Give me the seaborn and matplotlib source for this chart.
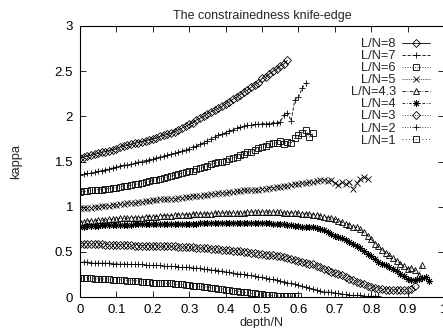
import numpy as np
import pandas as pd
import matplotlib
matplotlib.use("Agg")
import matplotlib.pyplot as plt
import seaborn as sns

# depth/N sampling grid shared by all runs
depth = np.arange(0, 97) / 100.0

labels = ["L/N=8", "L/N=7", "L/N=6", "L/N=5", "L/N=4.3",
          "L/N=4", "L/N=3", "L/N=2", "L/N=1"]

kappa_8 = [1.54, 1.55, 1.56, 1.57, 1.58, 1.59, 1.60, 1.61, 1.62, 1.63,
           1.64, 1.66, 1.67, 1.68, 1.69, 1.70, 1.71, 1.72, 1.73, 1.74,
           1.75, 1.76, 1.78, 1.79, 1.80, 1.81, 1.83, 1.85, 1.87, 1.89,
           1.91, 1.93, 1.96, 1.98, 2.00, 2.03, 2.05, 2.07, 2.09, 2.11,
           2.14, 2.16, 2.19, 2.21, 2.24, 2.27, 2.29, 2.32, 2.35, 2.37,
           2.42, 2.43, 2.47, 2.50, 2.52, 2.56, 2.58, 2.62]

kappa_7 = [1.35, 1.36, 1.37, 1.37, 1.38, 1.39, 1.40, 1.41, 1.42, 1.43,
           1.44, 1.45, 1.46, 1.46, 1.47, 1.48, 1.49, 1.50, 1.51, 1.52,
           1.53, 1.54, 1.55, 1.56, 1.57, 1.58, 1.59, 1.60, 1.62, 1.63,
           1.64, 1.66, 1.67, 1.69, 1.71, 1.73, 1.75, 1.77, 1.79, 1.80,
           1.82, 1.84, 1.85, 1.87, 1.88, 1.89, 1.90, 1.90, 1.91, 1.91,
           1.92, 1.92, 1.92, 1.93, 1.93, 1.94, 2.01, 2.04, 1.95, 2.18,
           2.21, 2.31, 2.37]

kappa_6 = [1.16, 1.17, 1.17, 1.18, 1.18, 1.19, 1.19, 1.20, 1.20, 1.21,
           1.21, 1.22, 1.23, 1.23, 1.24, 1.25, 1.25, 1.26, 1.27, 1.28,
           1.29, 1.30, 1.31, 1.32, 1.33, 1.34, 1.35, 1.36, 1.37, 1.38,
           1.39, 1.40, 1.42, 1.43, 1.44, 1.45, 1.47, 1.48, 1.49, 1.50,
           1.51, 1.53, 1.54, 1.55, 1.57, 1.58, 1.60, 1.61, 1.63, 1.65,
           1.66, 1.67, 1.69, 1.70, 1.71, 1.73, 1.69, 1.72, 1.70, 1.76,
           1.79, 1.82, 1.85, 1.77, 1.81]

kappa_5 = [0.98, 0.98, 0.99, 0.99, 1.00, 1.00, 1.01, 1.01, 1.01, 1.02,
           1.02, 1.03, 1.03, 1.04, 1.04, 1.04, 1.05, 1.05, 1.06, 1.06,
           1.07, 1.07, 1.08, 1.08, 1.08, 1.09, 1.09, 1.10, 1.10, 1.11,
           1.11, 1.12, 1.12, 1.12, 1.13, 1.13, 1.14, 1.14, 1.15, 1.15,
           1.15, 1.16, 1.16, 1.17, 1.17, 1.18, 1.18, 1.18, 1.19, 1.19,
           1.20, 1.20, 1.21, 1.21, 1.22, 1.22, 1.23, 1.23, 1.24, 1.25,
           1.25, 1.26, 1.26, 1.27, 1.27, 1.28, 1.29, 1.30, 1.28, 1.30,
           1.26, 1.24, 1.27, 1.25, 1.27, 1.20, 1.26, 1.31, 1.33, 1.31]

kappa_43 = [0.83, 0.83, 0.84, 0.84, 0.84, 0.85, 0.85, 0.85, 0.86, 0.86,
            0.86, 0.87, 0.87, 0.87, 0.88, 0.88, 0.88, 0.88, 0.89, 0.89,
            0.89, 0.89, 0.90, 0.90, 0.90, 0.90, 0.91, 0.91, 0.91, 0.91,
            0.91, 0.92, 0.92, 0.92, 0.92, 0.92, 0.92, 0.93, 0.93, 0.93,
            0.93, 0.93, 0.93, 0.93, 0.93, 0.93, 0.94, 0.94, 0.94, 0.94,
            0.94, 0.94, 0.94, 0.94, 0.94, 0.94, 0.93, 0.93, 0.93, 0.93,
            0.93, 0.92, 0.92, 0.92, 0.91, 0.91, 0.90, 0.89, 0.88, 0.87,
            0.86, 0.84, 0.83, 0.81, 0.80, 0.78, 0.77, 0.75, 0.72, 0.68,
            0.64, 0.59, 0.56, 0.52, 0.49, 0.46, 0.43, 0.40, 0.37, 0.34,
            0.31, 0.32, 0.30, 0.24, 0.35]

kappa_4 = [0.78, 0.78, 0.79, 0.79, 0.79, 0.79, 0.80, 0.80, 0.80, 0.80,
           0.80, 0.80, 0.80, 0.80, 0.80, 0.81, 0.81, 0.81, 0.81, 0.81,
           0.81, 0.81, 0.81, 0.81, 0.81, 0.81, 0.81, 0.81, 0.81, 0.81,
           0.81, 0.81, 0.81, 0.82, 0.82, 0.82, 0.82, 0.82, 0.82, 0.82,
           0.82, 0.82, 0.82, 0.82, 0.82, 0.82, 0.82, 0.82, 0.82, 0.82,
           0.82, 0.82, 0.82, 0.81, 0.81, 0.81, 0.81, 0.80, 0.80, 0.79,
           0.79, 0.78, 0.78, 0.77, 0.77, 0.76, 0.75, 0.74, 0.72, 0.70,
           0.68, 0.66, 0.65, 0.63, 0.61, 0.59, 0.57, 0.54, 0.51, 0.48,
           0.45, 0.42, 0.39, 0.37, 0.35, 0.33, 0.31, 0.29, 0.26, 0.23,
           0.20, 0.19, 0.19, 0.20, 0.21, 0.22, 0.18]

kappa_3 = [0.59, 0.59, 0.59, 0.59, 0.59, 0.59, 0.59, 0.58, 0.58, 0.58,
           0.58, 0.58, 0.58, 0.58, 0.58, 0.57, 0.57, 0.57, 0.57, 0.57,
           0.57, 0.57, 0.56, 0.56, 0.56, 0.56, 0.56, 0.55, 0.55, 0.55,
           0.55, 0.55, 0.54, 0.54, 0.54, 0.54, 0.53, 0.53, 0.53, 0.52,
           0.52, 0.52, 0.51, 0.51, 0.51, 0.50, 0.50, 0.49, 0.49, 0.48,
           0.48, 0.47, 0.47, 0.46, 0.45, 0.45, 0.44, 0.43, 0.42, 0.41,
           0.40, 0.39, 0.38, 0.37, 0.36, 0.34, 0.33, 0.31, 0.30, 0.28,
           0.27, 0.25, 0.24, 0.22, 0.20, 0.19, 0.17, 0.15, 0.14, 0.12,
           0.11, 0.10, 0.09, 0.09, 0.08, 0.08, 0.08, 0.08, 0.08, 0.08,
           0.08, 0.09, 0.12]

kappa_2 = [0.39, 0.39, 0.39, 0.38, 0.38, 0.38, 0.38, 0.38, 0.38, 0.37,
           0.37, 0.37, 0.37, 0.37, 0.36, 0.36, 0.36, 0.36, 0.35, 0.35,
           0.35, 0.35, 0.35, 0.34, 0.34, 0.34, 0.34, 0.33, 0.33, 0.33,
           0.33, 0.32, 0.32, 0.32, 0.31, 0.31, 0.30, 0.30, 0.29, 0.29,
           0.28, 0.28, 0.27, 0.26, 0.26, 0.25, 0.24, 0.24, 0.23, 0.22,
           0.22, 0.21, 0.20, 0.20, 0.19, 0.18, 0.17, 0.16, 0.15, 0.14,
           0.13, 0.12, 0.11, 0.10, 0.09, 0.08, 0.07, 0.06, 0.06, 0.05,
           0.04, 0.04, 0.03, 0.03, 0.02, 0.02, 0.02, 0.02, 0.01, 0.01,
           0.01, 0.01, 0.01]

kappa_1 = [0.21, 0.21, 0.21, 0.21, 0.20, 0.20, 0.20, 0.20, 0.20, 0.19,
           0.19, 0.19, 0.19, 0.18, 0.18, 0.18, 0.18, 0.17, 0.17, 0.17,
           0.16, 0.16, 0.16, 0.15, 0.15, 0.15, 0.14, 0.14, 0.14, 0.13,
           0.13, 0.12, 0.12, 0.12, 0.11, 0.11, 0.10, 0.10, 0.09, 0.09,
           0.08, 0.08, 0.07, 0.07, 0.06, 0.05, 0.05, 0.04, 0.04, 0.03,
           0.03, 0.02, 0.02, 0.02, 0.01, 0.01, 0.01, 0.01, 0.01, 0.01,
           0.01]

series = [kappa_8, kappa_7, kappa_6, kappa_5, kappa_43,
          kappa_4, kappa_3, kappa_2, kappa_1]

x_ticks = [0, 0.1, 0.2, 0.3, 0.4, 0.5, 0.6, 0.7, 0.8, 0.9, 1.0]
x_tick_labels = ["0", "0.1", "0.2", "0.3", "0.4", "0.5",
                 "0.6", "0.7", "0.8", "0.9", "1"]
y_ticks = [0, 0.5, 1.0, 1.5, 2.0, 2.5, 3.0]
y_tick_labels = ["0", "0.5", "1", "1.5", "2", "2.5", "3"]

# point type and dash pattern for each run
markers = ["D", "+", "s", "x", "^", (8, 2, 0), "D", "+", "s"]
line_styles = ["-", (0, (4, 2)), (0, (1, 2)), (0, (1, 1.5)),
               (0, (4, 2, 1, 2)), (0, (3, 2, 1, 2)), (0, (1, 2)),
               (0, (1, 2)), (0, (1, 3))]
marker_sizes = [3.6, 5, 4, 4.5, 4.2, 5, 3.6, 5, 4]

sns.set_style("ticks")
plt.rcParams["font.family"] = ["Liberation Sans", "DejaVu Sans"]

fig = plt.figure(figsize=(4.43, 3.28), dpi=100)
ax = fig.add_axes([80 / 443, 31 / 328, 364 / 443, 271 / 328])

for lab, vals, mk, ls, ms in zip(labels, series, markers, line_styles, marker_sizes):
    df = pd.DataFrame({"depth/N": depth[:len(vals)], "kappa": vals})
    sns.lineplot(data=df, x="depth/N", y="kappa", ax=ax, color="black",
                 linewidth=0.6, linestyle=ls, marker=mk, markersize=ms,
                 markerfacecolor="none", markeredgecolor="black",
                 markeredgewidth=0.6, legend=False, errorbar=None)

ax.set_xlim(0, 1)
ax.set_ylim(0, 3)
ax.set_xticks(x_ticks)
ax.set_xticklabels(x_tick_labels)
ax.set_yticks(y_ticks)
ax.set_yticklabels(y_tick_labels)
ax.tick_params(direction="in", top=True, right=True, length=4,
               width=0.6, labelsize=9.5, pad=5, colors="black")
for sp in ax.spines.values():
    sp.set_color("black")
    sp.set_linewidth(0.8)

ax.set_title("The constrainedness knife-edge", fontsize=9, pad=5)
ax.set_xlabel("depth/N", fontsize=9)
ax.set_ylabel("kappa", fontsize=9.3)
ax.xaxis.set_label_coords(0.5, -0.074)
ax.yaxis.set_label_coords(-0.159, 0.5)

handles = ax.get_lines()[:len(labels)]
ax.legend(handles, labels, loc="upper right", bbox_to_anchor=(0.9615, 0.955),
          frameon=False, markerfirst=False, numpoints=1, handlelength=2.2,
          handletextpad=0.45, labelspacing=0.0, borderpad=0,
          borderaxespad=0, fontsize=9.3)

fig.savefig("out.png", dpi=100)
